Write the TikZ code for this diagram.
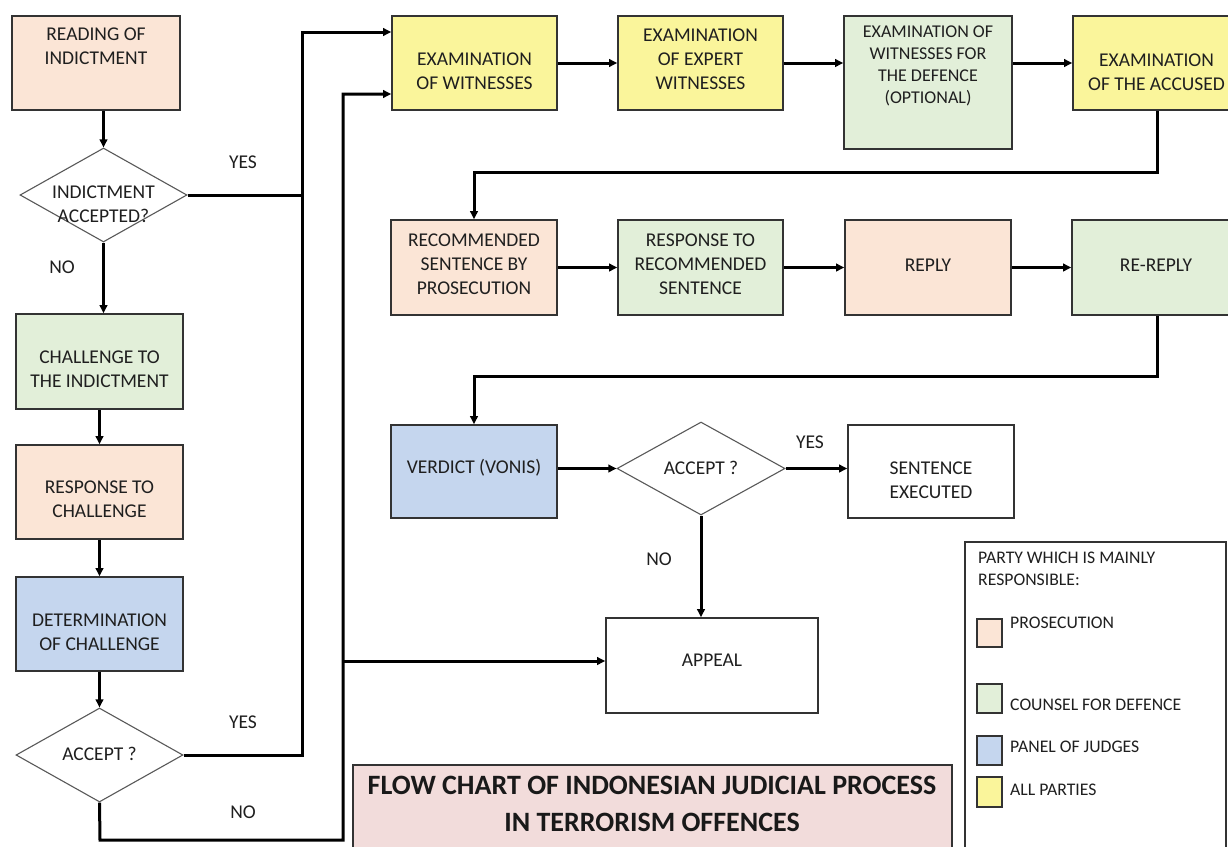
\documentclass[tikz,border=0pt]{standalone}
\usepackage{fontspec}
\setmainfont{Carlito}
\usetikzlibrary{shapes.geometric,arrows.meta}
\definecolor{cpro}{HTML}{FBE5D6}
\definecolor{cdef}{HTML}{E2EFD9}
\definecolor{cjud}{HTML}{C5D6EE}
\definecolor{call}{HTML}{FAF59B}
\definecolor{ctit}{HTML}{F2DCDB}
\begin{document}
\begin{tikzpicture}[x=1pt,y=-1pt,
  bx/.style={draw=black!80,line width=1.6pt,inner sep=0pt,rectangle},
  dm/.style={diamond,draw=black!65,line width=1.1pt,inner sep=0pt,fill=white},
  tx/.style={align=center,font=\fontsize{19.5}{24}\selectfont,text=black!88,inner sep=0pt},
  txs/.style={align=center,font=\fontsize{18}{22}\selectfont,text=black!88,inner sep=0pt},
  lg/.style={anchor=west,font=\fontsize{17.7}{22}\selectfont,text=black!88,inner sep=0pt},
  ln/.style={line width=3pt,black},
  ar/.style={ln,-{Triangle[length=8pt,width=7.5pt]}}]
\useasboundingbox (0,0) rectangle (1228,846);
\clip (0,0) rectangle (1228,846);
\fill[white] (0,0) rectangle (1228,846);

% left column
\node[bx,fill=cpro,minimum width=168pt,minimum height=94pt] (r1) at (96,63) {};
\node[tx] (t1) at (96,46.5) {READING OF\\INDICTMENT};
\node[dm,minimum width=167pt,minimum height=94pt] (d1) at (103.5,195) {};
\node[tx] (td1) at (103.5,204.5) {INDICTMENT\\ACCEPTED?};
\node[bx,fill=cdef,minimum width=167pt,minimum height=95pt] (ch) at (99.5,361.5) {};
\node[tx] (tch) at (99.5,369.5) {CHALLENGE TO\\THE INDICTMENT};
\node[bx,fill=cpro,minimum width=167pt,minimum height=94pt] (rc) at (99.5,492) {};
\node[tx] (trc) at (99.5,499.5) {RESPONSE TO\\CHALLENGE};
\node[bx,fill=cjud,minimum width=167pt,minimum height=94pt] (dt) at (99.5,624) {};
\node[tx] (tdt) at (99.5,632) {DETERMINATION\\OF CHALLENGE};
\node[dm,minimum width=167pt,minimum height=94pt] (d3) at (99.5,755) {};
\node[tx] (td3) at (99.5,754) {ACCEPT ?};

% top row
\node[bx,fill=call,minimum width=165pt,minimum height=94pt] (ew) at (474.5,63) {};
\node[tx] (tew) at (474.5,71.5) {EXAMINATION\\OF WITNESSES};
\node[bx,fill=call,minimum width=165pt,minimum height=94pt] (ex) at (700.5,63) {};
\node[tx] (tex) at (700.5,59) {EXAMINATION\\OF EXPERT\\WITNESSES};
\node[bx,fill=cdef,minimum width=168pt,minimum height=133pt] (ed) at (928,82.5) {};
\node[txs] (ted) at (928,65.5) {EXAMINATION OF\\WITNESSES FOR\\THE DEFENCE\\(OPTIONAL)};
\node[bx,fill=call,minimum width=167pt,minimum height=94pt] (ea) at (1156.5,63) {};
\node[tx] (tea) at (1156.5,72) {EXAMINATION\\OF THE ACCUSED};

% second row
\node[bx,fill=cpro,minimum width=166pt,minimum height=95pt] (rs) at (474,267.5) {};
\node[tx] (trs) at (474,264) {RECOMMENDED\\SENTENCE BY\\PROSECUTION};
\node[bx,fill=cdef,minimum width=165pt,minimum height=95pt] (rr) at (700.5,267.5) {};
\node[tx] (trr) at (700.5,264) {RESPONSE TO\\RECOMMENDED\\SENTENCE};
\node[bx,fill=cpro,minimum width=166pt,minimum height=95pt] (rp) at (928,267.5) {};
\node[tx] (trp) at (928,265) {REPLY};
\node[bx,fill=cdef,minimum width=168pt,minimum height=95pt] (rrp) at (1156,267.5) {};
\node[tx] (trrp) at (1156,265) {RE-REPLY};

% third row
\node[bx,fill=cjud,minimum width=166pt,minimum height=93pt] (vd) at (474,471.5) {};
\node[tx] (tvd) at (474,468) {VERDICT (VONIS)};
\node[dm,minimum width=168pt,minimum height=93pt] (d2) at (701,468.5) {};
\node[tx] (td2) at (701,468) {ACCEPT ?};
\node[bx,fill=white,minimum width=166pt,minimum height=93pt] (se) at (931,471.5) {};
\node[tx] (tse) at (931,480) {SENTENCE\\EXECUTED};
\node[bx,fill=white,minimum width=212pt,minimum height=95pt] (ap) at (712,665.5) {};
\node[tx] (tap) at (712,660) {APPEAL};

% labels
\node[tx] (y1) at (243,162) {YES};
\node[tx] (n1) at (62,267) {NO};
\node[tx] (y3) at (243,722) {YES};
\node[tx] (n3) at (243,812) {NO};
\node[tx] (y2) at (810,442) {YES};
\node[tx] (n2) at (659,559) {NO};

% connectors
\coordinate (jA) at (302,32);
\coordinate (jB) at (343,94);
\coordinate (jC) at (100,840);
\coordinate (jD) at (343,661);
\coordinate (k1) at (1157,172);
\coordinate (k2) at (1157,376);
\draw[ar] (r1.south -| d1.north) -- (d1.north);
\draw[ar] (d1.south) -- (d1.south |- ch.north);
\draw[ar] (ch.south) -- (rc.north);
\draw[ar] (rc.south) -- (dt.north);
\draw[ar] (dt.south) -- (d3.north);
\draw[ln] (d1.east) -- (d1.east -| jA);
\draw[ar] (d3.east) -| (jA) -- (jA -| ew.west);
\draw[ar] (d3.south) -- (jC) -| (jB) -- (jB -| ew.west);
\draw[ar] (jD) -- (jD -| ap.west);
\draw[ar] (ew.east) -- (ex.west);
\draw[ar] (ex.east) -- (ex.east -| ed.west);
\draw[ar] (ed.east |- ea.west) -- (ea.west);
\draw[ar] (ea.south -| k1) -- (k1) -| (rs.north);
\draw[ar] (rs.east) -- (rr.west);
\draw[ar] (rr.east) -- (rp.west);
\draw[ar] (rp.east) -- (rrp.west);
\draw[ar] (rrp.south -| k2) -- (k2) -| (vd.north);
\draw[ar] (vd.east |- d2.west) -- (d2.west);
\draw[ar] (d2.east) -- (d2.east -| se.west);
\draw[ar] (d2.south) -- (d2.south |- ap.north);

% title
\node[bx,fill=ctit,line width=1.3pt,minimum width=599pt,minimum height=105pt] (tb) at (652.5,817.5) {};
\node[align=center,inner sep=0pt,font=\bfseries\fontsize{28}{37}\selectfont,text=black!90] (tt) at (652,803.5) {FLOW CHART OF INDONESIAN JUDICIAL PROCESS\\IN TERRORISM OFFENCES};

% legend
\node[bx,fill=white,line width=1.3pt,minimum width=261pt,minimum height=328pt] (lgb) at (1095.5,706) {};
\node[lg,anchor=north west,align=left] (lgt) at (978,552) {PARTY WHICH IS MAINLY\\RESPONSIBLE:};
\node[bx,fill=cpro,minimum width=25pt,minimum height=28pt] (sw1) at (989.5,633) {};
\node[bx,fill=cdef,minimum width=25pt,minimum height=29pt] (sw2) at (989.5,698.5) {};
\node[bx,fill=cjud,minimum width=25pt,minimum height=29pt] (sw3) at (989.5,750.5) {};
\node[bx,fill=call,minimum width=25pt,minimum height=30pt] (sw4) at (989.5,792) {};
\node[lg] (l1) at (1010,623) {PROSECUTION};
\node[lg] (l2) at (1010,705) {COUNSEL FOR DEFENCE};
\node[lg] (l3) at (1010,747) {PANEL OF JUDGES};
\node[lg] (l4) at (1010,790) {ALL PARTIES};
\end{tikzpicture}
\end{document}
